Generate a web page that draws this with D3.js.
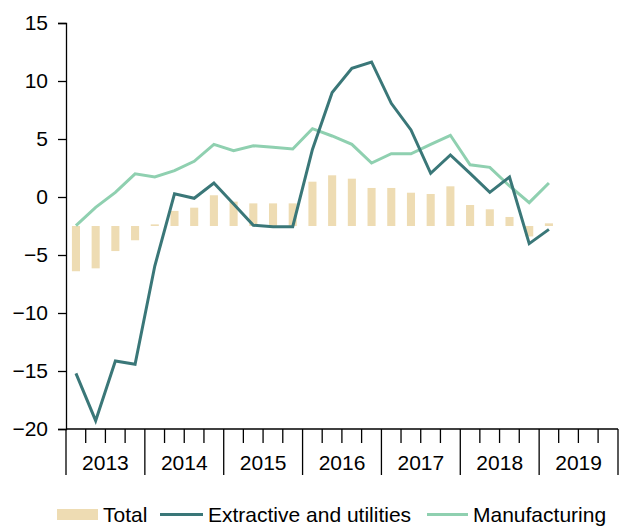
<!DOCTYPE html>
<html>
<head>
<meta charset="utf-8">
<script src="https://cdn.jsdelivr.net/npm/d3@7"></script>
<style>
  body { margin: 0; background: #fff; }
  text { font-family: "Liberation Sans", Arial, sans-serif; fill: #000; }
</style>
</head>
<body>
<div id="chart"></div>
<script>
// years on the axis, quarters 2013Q1..2019Q4
var years = ["2013", "2014", "2015", "2016", "2017", "2018", "2019"];
var quarters = [];
years.forEach(function (y) { ["Q1", "Q2", "Q3", "Q4"].forEach(function (q) { quarters.push(y + q); }); });

// data 2013Q1..2019Q1 (25 quarters)
var total = [-6.4, -6.15, -4.66, -3.73, -2.36, -1.2, -0.92, 0.15, -0.4, -0.55, -0.55, -0.55,
             1.32, 1.87, 1.58, 0.78, 0.78, 0.37, 0.26, 0.92, -0.69, -1.06, -1.72, -3.4, -2.27];
var totalBase = -2.5;
var extractive = [-15.2, -19.28, -14.14, -14.42, -5.95, 0.28, -0.11, 1.2, -0.6, -2.44, -2.56, -2.56,
                  4.1, 9.0, 11.1, 11.64, 8.08, 5.78, 2.04, 3.62, 2.04, 0.4, 1.72, -4.02, -2.79];
var manufacturing = [-2.46, -0.89, 0.4, 2.0, 1.72, 2.27, 3.08, 4.54, 3.99, 4.42, 4.28, 4.14,
                     5.89, 5.26, 4.54, 2.93, 3.73, 3.73, 4.54, 5.32, 2.78, 2.56, 0.95, -0.49, 1.21];
var yTicks = [15, 10, 5, 0, -5, -10, -15, -20];

var width = 626, height = 528;
var m = { left: 66, right: 618, top: 23, bottom: 429 };
var fs = "21px";

var svg = d3.select("#chart").append("svg")
    .attr("width", width)
    .attr("height", height);

var x = d3.scaleBand().domain(quarters).range([m.left, m.right]).paddingInner(0.59).paddingOuter(0.3);
var xYear = d3.scaleBand().domain(years).range([m.left, m.right]);
var y = d3.scaleLinear().domain([-20, 15]).range([m.bottom, m.top]);

// bars
svg.append("g").selectAll("rect").data(total).enter().append("rect")
    .attr("x", function (d, i) { return x(quarters[i]); })
    .attr("width", x.bandwidth())
    .attr("y", function (d) { return y(Math.max(d, totalBase)); })
    .attr("height", function (d) { return Math.abs(y(d) - y(totalBase)); })
    .style("fill", "#EEDCB3");

var cx = function (d, i) { return x(quarters[i]) + x.bandwidth() / 2; };
var line = d3.line().x(cx).y(function (d) { return y(d); });

svg.append("path").datum(manufacturing)
    .attr("d", line)
    .style("fill", "none").style("stroke", "#8FD0B0").style("stroke-width", 3);
svg.append("path").datum(extractive)
    .attr("d", line)
    .style("fill", "none").style("stroke", "#3A7778").style("stroke-width", 3);

// y axis
var yAxis = svg.append("g").attr("transform", "translate(" + m.left + ",0)")
    .call(d3.axisLeft(y).tickValues(yTicks).tickSize(8).tickPadding(10).tickFormat(d3.format("d")));
yAxis.selectAll("text").style("font-size", fs).attr("font-family", null);
yAxis.attr("font-family", null).attr("font-size", null);
yAxis.selectAll("line, path").style("stroke", "#000").style("stroke-width", 1.3);

// x axis: minor ticks per quarter, major per year
var xg = svg.append("g").attr("transform", "translate(0," + m.bottom + ")");
xg.append("line").attr("x1", m.left).attr("x2", m.right).style("stroke", "#000").style("stroke-width", 1.3);
xg.selectAll(".minor").data(quarters.filter(function (q) { return q.slice(4) != "Q1"; }))
    .enter().append("line")
    .attr("x1", function (q) { return x.step() * quarters.indexOf(q) + m.left; })
    .attr("x2", function (q) { return x.step() * quarters.indexOf(q) + m.left; })
    .attr("y1", 0).attr("y2", 14)
    .style("stroke", "#000").style("stroke-width", 1.3);
xg.selectAll(".major").data(years.concat(["end"]))
    .enter().append("line")
    .attr("x1", function (d, i) { return m.left + i * xYear.step(); })
    .attr("x2", function (d, i) { return m.left + i * xYear.step(); })
    .attr("y1", 0).attr("y2", 46)
    .style("stroke", "#000").style("stroke-width", 1.3);
xg.selectAll(".yl").data(years).enter().append("text")
    .attr("x", function (d) { return xYear(d) + xYear.bandwidth() / 2; })
    .attr("y", 41)
    .attr("text-anchor", "middle")
    .style("font-size", fs)
    .text(function (d) { return d; });

// legend
var lg = svg.append("g");
lg.append("rect").attr("x", 57).attr("y", 509).attr("width", 41).attr("height", 11).style("fill", "#EEDCB3");
lg.append("text").attr("x", 103).attr("y", 522).style("font-size", fs).text("Total");
lg.append("line").attr("x1", 160).attr("x2", 203).attr("y1", 514.5).attr("y2", 514.5)
    .style("stroke", "#3A7778").style("stroke-width", 3);
lg.append("text").attr("x", 208).attr("y", 522).style("font-size", fs).text("Extractive and utilities");
lg.append("line").attr("x1", 427).attr("x2", 468).attr("y1", 514.5).attr("y2", 514.5)
    .style("stroke", "#8FD0B0").style("stroke-width", 3);
lg.append("text").attr("x", 473).attr("y", 522).style("font-size", fs).text("Manufacturing");
</script>
</body>
</html>
